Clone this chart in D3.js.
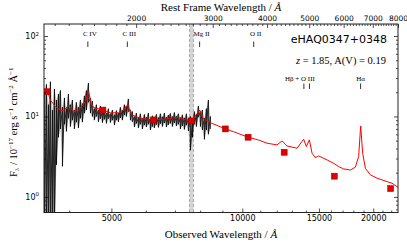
<!DOCTYPE html>
<html>
<head>
<meta charset="utf-8">
<script src="https://cdn.jsdelivr.net/npm/d3@7"></script>
<style>
  body { margin: 0; background: #fff; }
  text { fill: #000; }
</style>
</head>
<body>
<div id="chart"></div>
<script>

// redshift of the object
var redshift = 1.85;
var extinctionAV = 0.19;
var objectName = "eHAQ0347+0348";

// observed spectrum: upper / lower envelope of the noisy black trace (Angstrom, flux)
var obsWave = [3508,3545,3583,3621,3660,3699,3738,3778,3818,3859,
               3900,3941,3983,4025,4068,4111,4155,4199,4244,4289,
               4335,4381,4428,4475,4522,4570,4619,4668,4718,4768,
               4819,4870,4922,4974,5027,5081,5135,5189,5245,5300,
               5357,5414,5471,5530,5588,5648,5708,5769,5830,5892,
               5955,6018,6082,6147,6212,6278,6345,6413,6481,6550,
               6620,6690,6761,6833,6906,6980,7054,7129,7205,7282,
               7359,7438,7517,7597,7678,7759,7842,7925,8010,8095,
               8181,8268,8356,8445];
var obsHi = [20,25,14,27,12,22,16,19,21,13,
             17,12.5,19,14,16,12,15,13,16,14.5,
             18,21,26,17,15.5,12.5,14,12,13.5,11.5,
             13,11,12.5,10.8,12,10.5,11.8,11,13,12,
             14,13.5,16.5,12,11.5,10,11,9.6,10.8,9.5,
             10.6,9.8,11,9.4,10.2,9.8,10.6,9.7,10.8,9.9,
             11,9.8,10.4,10.9,10,11.2,10.1,10.8,9.7,10.5,
             9.6,10.8,9.5,10,9.2,11.5,10.5,13.5,11.5,12,
             9.5,12.5,16,10];
var obsLo = [0.3,0.3,0.3,0.3,0.3,0.4,2.5,5.5,7,2.4,
             8,6.5,9.5,7.5,9,7,8.5,7.2,9.5,8.5,
             11,12,15,11,10,9,10,8.6,9.4,8.4,
             9.2,8.2,9.4,8.4,9,7.8,9,8.6,9.6,9,
             10.4,10,11.5,9,8.6,7.4,8.2,7.2,8,7,
             7.8,7.4,8,6.8,7.5,7.2,7.9,7.3,8.1,7.5,
             8.3,7.4,7.9,8.2,7.5,8.3,7.6,8,7,7.6,
             6.9,7.8,6.6,3.8,5.5,8,7.5,9.8,7.5,6.8,
             5.2,6.8,6,7];

// reddened quasar model (red line)
var modelWave = [3543,3621,3718,3817,3884,3988,4095,4205,4357,4434,
                 4490,4553,4785,4974,5197,5336,5450,5579,5829,6254,
                 6714,7079,7464,7636,7800,7980,8150,8444,9141,9537,
                 10311,10886,11400,12019,12341,12672,13361,13837,14036,14261,
                 14467,14722,14982,15662,16217,16657,17099,17716,18192,18513,
                 18711,18910,19182,19697,20406,21515,22091,22877];
var modelFlux = [22.6,16.0,13.2,12.0,11.7,13.9,11.5,12.0,15.3,20.3,
                 14.6,12.9,12.0,11.1,11.1,12.0,13.9,10.4,9.5,9.05,
                 9.31,9.77,9.05,8.87,10.1,12.0,9.23,8.37,7.0,6.48,
                 5.52,5.11,4.65,4.43,4.96,4.30,4.03,5.21,4.22,5.11,
                 3.49,3.08,3.23,2.88,2.62,2.38,2.23,2.16,2.34,3.17,
                 7.62,3.49,2.27,1.88,1.71,1.55,1.48,1.30];

// photometry (ugriz + YJHK)
var photWave = [3560, 4780, 6250, 7640, 9140, 10310, 12480, 16280, 21930];
var photFlux = [20.3, 12.0, 9.05, 8.8, 7.0, 5.52, 3.59, 1.81, 1.27];

// emission lines: rest wavelength and label
var upperLines = [["C IV", 1549], ["C III", 1909], ["Mg II", 2799], ["O II", 3727]];
var lowerLinesWave = [4861, 5007, 6563];
var lowerLabels = [["Hβ + O III", 4861], ["Hα", 6563]];

// telluric band (observed Angstrom)
var telluricBand = [7560, 7720];

// axis ticks
var obsMajorTicks = [5000, 10000, 15000, 20000];
var obsMinorTicks = [4000, 6000, 7000, 8000, 9000, 11000, 12000, 13000, 14000,
                     16000, 17000, 18000, 19000, 21000, 22000];
var restMajorTicks = [2000, 3000, 4000, 5000, 6000, 7000, 8000];
var fluxMajorTicks = [1, 10, 100];
var fluxTickExp = ["0", "1", "2"];
var fluxMinorTicks = [0.7, 0.8, 0.9, 2, 3, 4, 5, 6, 7, 8, 9, 20, 30, 40, 50, 60, 70, 80, 90];

(function(){

    var W = 407, H = 242;
    var pLeft = 44, pRight = 398, pTop = 24, pBottom = 212.5;

    var svg = d3.select("#chart").append("svg")
        .attr("width", W)
        .attr("height", H)
        .style("display", "block");

    var xScale = d3.scaleLog().domain([3500, 22800]).range([pLeft, pRight]);
    var xRest = d3.scaleLog().domain([3500 / (1 + redshift), 22800 / (1 + redshift)]).range([pLeft, pRight]);
    var yScale = d3.scaleLog().domain([0.64, 141]).range([pBottom, pTop]);

    svg.append("clipPath").attr("id", "plotclip")
        .append("rect")
        .attr("x", pLeft).attr("y", pTop)
        .attr("width", pRight - pLeft).attr("height", pBottom - pTop);

    var plot = svg.append("g").attr("clip-path", "url(#plotclip)");

    // telluric band
    plot.append("rect")
        .attr("x", xScale(telluricBand[0]))
        .attr("y", pTop)
        .attr("width", xScale(telluricBand[1]) - xScale(telluricBand[0]))
        .attr("height", pBottom - pTop)
        .attr("fill", "#d4d4d4");
    plot.selectAll("line.band-edge")
        .data(telluricBand)
        .enter()
        .append("line")
        .classed("band-edge", true)
        .attr("x1", function(d){ return xScale(d); })
        .attr("x2", function(d){ return xScale(d); })
        .attr("y1", pTop).attr("y2", pBottom)
        .attr("stroke", "#aaa")
        .attr("stroke-width", 1)
        .attr("stroke-dasharray", "3,2");

    // observed spectrum
    var obsRows = obsWave.map(function(w, i){ return {w: w, hi: obsHi[i], lo: obsLo[i]}; });

    plot.append("path")
        .datum(obsRows)
        .attr("d", d3.area()
            .x(function(d){ return xScale(d.w); })
            .y0(function(d){ return yScale(Math.max(d.lo, 0.1)); })
            .y1(function(d){ return yScale(d.hi); }))
        .attr("fill", "#777")
        .attr("fill-opacity", 0.45);

    var zig = [];
    obsRows.forEach(function(d){
        zig.push([d.w, d.hi]);
        zig.push([d.w, d.lo]);
    });
    plot.append("path")
        .datum(zig)
        .attr("d", d3.line()
            .x(function(d){ return xScale(d[0]); })
            .y(function(d){ return yScale(Math.max(d[1], 0.1)); }))
        .attr("fill", "none")
        .attr("stroke", "#000")
        .attr("stroke-width", 0.8);

    // model line
    plot.append("path")
        .datum(modelWave.map(function(w, i){ return [w, modelFlux[i]]; }))
        .attr("d", d3.line()
            .x(function(d){ return xScale(d[0]); })
            .y(function(d){ return yScale(d[1]); }))
        .attr("fill", "none")
        .attr("stroke", "#ff0000")
        .attr("stroke-width", 1);

    // photometric points
    var sq = 6;
    plot.selectAll("rect.phot")
        .data(photWave)
        .enter()
        .append("rect")
        .classed("phot", true)
        .attr("x", function(d){ return xScale(d) - sq / 2; })
        .attr("y", function(d, i){ return yScale(photFlux[i]) - sq / 2; })
        .attr("width", sq)
        .attr("height", sq)
        .attr("fill", "#e00000")
        .attr("stroke", "#900")
        .attr("stroke-width", 0.5);

    // line markers
    function drawLineMarks(list, tickY){
        svg.append("g").selectAll("line")
            .data(list)
            .enter()
            .append("line")
            .attr("x1", function(d){ return xScale(d * (1 + redshift)); })
            .attr("x2", function(d){ return xScale(d * (1 + redshift)); })
            .attr("y1", tickY).attr("y2", tickY + 5.5)
            .attr("stroke", "#000")
            .attr("stroke-width", 0.8);
    }
    drawLineMarks(upperLines.map(function(d){ return d[1]; }), 41.5);
    drawLineMarks(lowerLinesWave, 83.5);

    svg.selectAll("text.line-upper")
        .data(upperLines)
        .enter()
        .append("text")
        .classed("line-upper", true)
        .attr("x", function(d){ return xScale(d[1] * (1 + redshift)) + 2; })
        .attr("y", 35.5)
        .attr("text-anchor", "middle")
        .attr("font-family", "Liberation Serif, serif")
        .attr("font-size", "7px")
        .text(function(d){ return d[0]; });

    svg.selectAll("text.line-lower")
        .data(lowerLabels)
        .enter()
        .append("text")
        .classed("line-lower", true)
        .attr("x", function(d, i){ return xScale(d[1] * (1 + redshift)) + (i == 0 ? -4 : 0); })
        .attr("y", 81)
        .attr("text-anchor", "middle")
        .attr("font-family", "Liberation Serif, serif")
        .attr("font-size", "7px")
        .text(function(d){ return d[0]; });

    // axes
    var axisFont = "DejaVu Sans, sans-serif";

    var gBottom = svg.append("g").attr("transform", "translate(0," + pBottom + ")");
    gBottom.call(d3.axisBottom(xScale).tickValues(obsMajorTicks).tickSize(-4).tickSizeOuter(0)
            .tickPadding(3).tickFormat(d3.format("d")));
    gBottom.append("g").call(d3.axisBottom(xScale).tickValues(obsMinorTicks).tickSize(-2).tickSizeOuter(0).tickFormat(""));

    var gTop = svg.append("g").attr("transform", "translate(0," + pTop + ")");
    gTop.call(d3.axisTop(xRest).tickValues(restMajorTicks).tickSize(-4).tickSizeOuter(0)
            .tickPadding(3).tickFormat(d3.format("d")));
    var restMinor = d3.range(1300, 8000, 100).filter(function(d){ return d % 1000 != 0; });
    gTop.append("g").call(d3.axisTop(xRest).tickValues(restMinor).tickSize(-2).tickSizeOuter(0).tickFormat(""));

    var gLeft = svg.append("g").attr("transform", "translate(" + pLeft + ",0)");
    gLeft.call(d3.axisLeft(yScale).tickValues(fluxMajorTicks).tickSize(-4).tickSizeOuter(0).tickFormat(""));
    gLeft.append("g").call(d3.axisLeft(yScale).tickValues(fluxMinorTicks).tickSize(-2).tickSizeOuter(0).tickFormat(""));

    var gRight = svg.append("g").attr("transform", "translate(" + pRight + ",0)");
    gRight.call(d3.axisRight(yScale).tickValues(fluxMajorTicks).tickSize(-4).tickSizeOuter(0).tickFormat(""));
    gRight.append("g").call(d3.axisRight(yScale).tickValues(fluxMinorTicks).tickSize(-2).tickSizeOuter(0).tickFormat(""));

    svg.selectAll(".domain").remove();
    svg.selectAll(".tick line").attr("stroke", "#000").attr("stroke-width", 0.7);
    gBottom.selectAll("text").attr("font-family", axisFont).attr("font-size", "8px");
    gTop.selectAll("text").attr("font-family", axisFont).attr("font-size", "7.5px");

    // y tick labels 10^n
    var ylab = svg.selectAll("text.ylab")
        .data(fluxMajorTicks)
        .enter()
        .append("text")
        .classed("ylab", true)
        .attr("x", 39)
        .attr("y", function(d){ return yScale(d) + 3; })
        .attr("text-anchor", "end")
        .attr("font-family", axisFont)
        .attr("font-size", "8px");
    ylab.append("tspan").text("10");
    ylab.append("tspan")
        .attr("dy", -3.5)
        .attr("font-size", "5.5px")
        .text(function(d, i){ return fluxTickExp[i]; });

    // frame
    svg.append("rect")
        .attr("x", pLeft).attr("y", pTop)
        .attr("width", pRight - pLeft).attr("height", pBottom - pTop)
        .attr("fill", "none")
        .attr("stroke", "#222")
        .attr("stroke-width", 1);

    // axis titles
    var serif = "Liberation Serif, serif";
    var tTop = svg.append("text")
        .attr("x", (pLeft + pRight) / 2).attr("y", 11)
        .attr("text-anchor", "middle")
        .attr("font-family", serif)
        .attr("font-size", "11px");
    tTop.append("tspan").text("Rest Frame Wavelength / ");
    tTop.append("tspan").attr("font-style", "italic").text("Å");

    var tBot = svg.append("text")
        .attr("x", (pLeft + pRight) / 2).attr("y", 238)
        .attr("text-anchor", "middle")
        .attr("font-family", serif)
        .attr("font-size", "11px");
    tBot.append("tspan").text("Observed Wavelength / ");
    tBot.append("tspan").attr("font-style", "italic").text("Å");

    var tY = svg.append("text")
        .attr("transform", "translate(17," + ((pTop + pBottom) / 2 + 4) + ") rotate(-90)")
        .attr("text-anchor", "middle")
        .attr("font-family", serif)
        .attr("font-size", "10.5px");
    tY.append("tspan").text("F");
    tY.append("tspan").attr("dy", 2).attr("font-size", "7px").text("λ");
    tY.append("tspan").attr("dy", -2).text(" / 10");
    tY.append("tspan").attr("dy", -4).attr("font-size", "7px").text("−17");
    tY.append("tspan").attr("dy", 4).text(" erg s");
    tY.append("tspan").attr("dy", -4).attr("font-size", "7px").text("−1");
    tY.append("tspan").attr("dy", 4).text(" cm");
    tY.append("tspan").attr("dy", -4).attr("font-size", "7px").text("−2");
    tY.append("tspan").attr("dy", 4).text(" Å");
    tY.append("tspan").attr("dy", -4).attr("font-size", "7px").text("−1");

    // object name and fit info
    svg.append("text")
        .attr("x", 387).attr("y", 43)
        .attr("text-anchor", "end")
        .attr("font-family", axisFont)
        .attr("font-size", "11px")
        .text(objectName);

    var info = svg.append("text")
        .attr("x", 386).attr("y", 64)
        .attr("text-anchor", "end")
        .attr("font-family", serif)
        .attr("font-size", "10.5px");
    info.append("tspan").attr("font-style", "italic").text("z");
    info.append("tspan").text(" = " + redshift.toFixed(2) + ", A(V) = " + extinctionAV.toFixed(2));

}());

</script>
</body>
</html>
